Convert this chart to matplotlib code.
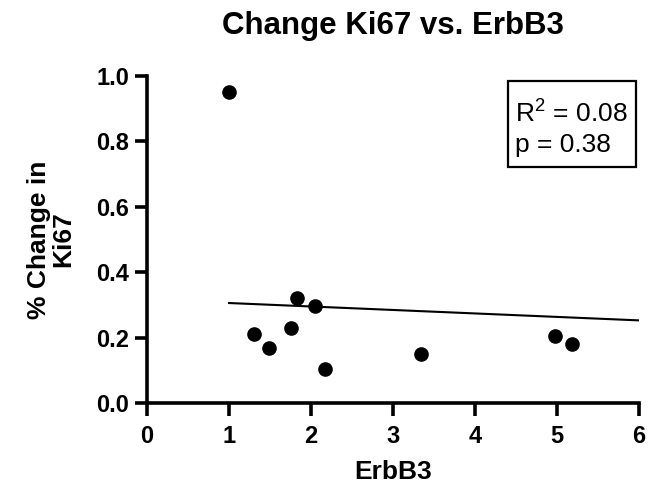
import matplotlib
matplotlib.use("Agg")
import matplotlib.pyplot as plt
from matplotlib.patches import Rectangle

plt.rcParams['font.family'] = ['Liberation Sans', 'DejaVu Sans']
plt.rcParams['mathtext.fontset'] = 'custom'
plt.rcParams['mathtext.rm'] = 'Liberation Sans'

# data
erbb3 = [1.00, 1.30, 1.49, 1.75, 1.83, 2.05, 2.17, 3.34, 4.98, 5.18]
ki67_change = [0.951, 0.210, 0.170, 0.231, 0.322, 0.297, 0.104, 0.150, 0.205, 0.180]
fit_x = [1, 6]
fit_y = [0.306, 0.253]
x_ticks = [0, 1, 2, 3, 4, 5, 6]
y_ticks = [0.0, 0.2, 0.4, 0.6, 0.8, 1.0]
r_squared = 0.08
p_value = 0.38

fig = plt.figure(figsize=(6.52, 4.9), dpi=100)
ax = fig.add_axes([0.2255, 0.177, 0.7545, 0.6686])

ax.plot(erbb3, ki67_change, 'o', color='black', markersize=9.5, clip_on=False)
ax.plot(fit_x, fit_y, color='black', lw=1.5)

ax.set_xlim(0, 6)
ax.set_ylim(0, 1.0)
ax.set_xticks(x_ticks)
ax.set_xticklabels([str(t) for t in x_ticks])
ax.set_yticks(y_ticks)
ax.set_yticklabels(['%.1f' % t for t in y_ticks])

for side in ['top', 'right']:
    ax.spines[side].set_visible(False)
for side in ['left', 'bottom']:
    ax.spines[side].set_linewidth(2.6)
ax.tick_params(width=2.6, length=9, direction='out', labelsize=17)
ax.tick_params(axis='x', pad=7)
ax.tick_params(axis='y', pad=4)
for lab in ax.get_xticklabels() + ax.get_yticklabels():
    lab.set_fontweight('bold')

ax.set_xlabel('ErbB3', fontsize=19, fontweight='bold', labelpad=8)
ax.set_ylabel('% Change in\nKi67', fontsize=19, fontweight='bold', labelpad=15,
              linespacing=1.0)
ax.set_title('Change Ki67 vs. ErbB3', fontsize=22.5, fontweight='bold', pad=30)

# stats box
ax.add_patch(Rectangle((0.734, 0.722), 0.26, 0.263, transform=ax.transAxes,
                       fc='white', ec='black', lw=1.6, clip_on=False, zorder=3))
ax.text(0.747, 0.860, 'R$^{\\mathregular{2}}$ = %.2f' % r_squared, transform=ax.transAxes,
        fontsize=19, ha='left', va='baseline', zorder=4)
ax.text(0.747, 0.768, 'p = %.2f' % p_value, transform=ax.transAxes,
        fontsize=19, ha='left', va='baseline', zorder=4)

fig.savefig('out.png', dpi=100)
